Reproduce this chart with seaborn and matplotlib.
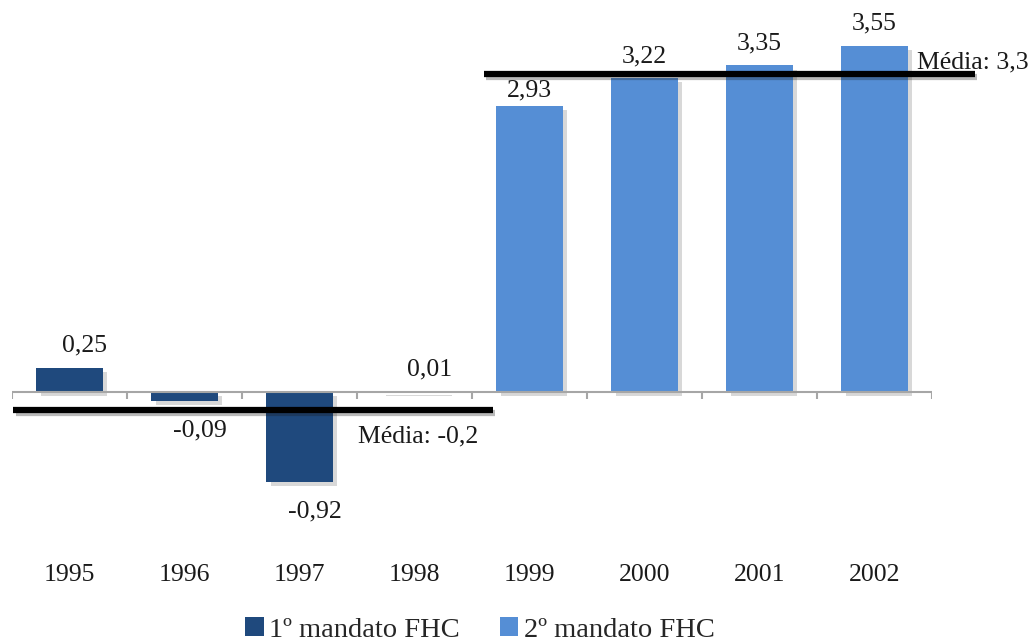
import numpy as np
import pandas as pd
import matplotlib
matplotlib.use("Agg")
import matplotlib.pyplot as plt
import matplotlib.patheffects as pe
from matplotlib.patches import Patch
import seaborn as sns

# Data
anos = ["1995", "1996", "1997", "1998", "1999", "2000", "2001", "2002"]
valores = [0.25, -0.09, -0.92, 0.01, 2.93, 3.22, 3.35, 3.55]
mandatos = ["1º mandato FHC"] * 4 + ["2º mandato FHC"] * 4
rotulos_media = ["Média: -0,2", "Média: 3,3"]

cores = {"1º mandato FHC": "#1F497D", "2º mandato FHC": "#558ED5"}

df = pd.DataFrame({"ano": anos, "valor": valores, "mandato": mandatos})

sns.set_theme(style="white")
plt.rcParams["font.family"] = ["Liberation Serif", "DejaVu Serif"]

W, H = 1033, 641
PX_PER_UNIT = 97.5
fig = plt.figure(figsize=(W / 100, H / 100), dpi=100)
# axes spans x 12..932 px, y 0..560 px (from top)
ax = fig.add_axes([12 / W, (H - 560) / H, 920 / W, 560 / H])

sns.barplot(data=df, x="ano", y="valor", hue="mandato", palette=cores,
            dodge=False, width=0.575, legend=False, ax=ax, saturation=1)

shadow = [pe.SimplePatchShadow(offset=(3, -3), shadow_rgbFace="#7f7f7f", alpha=0.3),
          pe.Normal()]
for p in ax.patches:
    p.set_path_effects(shadow)
    p.set_edgecolor("none")

ymax = 392 / PX_PER_UNIT
ymin = -(560 - 392) / PX_PER_UNIT
ax.set_xlim(-0.5, 7.5)
ax.set_ylim(ymin, ymax)

# zero axis with category tick marks
ax.axhline(0, color="#a6a6a6", lw=1.5, zorder=1)
tick_len = 7 / PX_PER_UNIT
ax.vlines(np.arange(len(anos) + 1) - 0.5, -tick_len, 0, color="#a6a6a6", lw=1.5, zorder=1)

# term means
grupos = [("1º mandato FHC", -0.49, 3.68), ("2º mandato FHC", 3.6, 7.87)]
medias = {g: np.mean([v for v, m in zip(valores, mandatos) if m == g]) for g, _, _ in grupos}
for g, x0, x1 in grupos:
    mu = medias[g]
    ax.plot([x0, x1], [mu, mu], color="black", lw=4.5, solid_capstyle="butt",
            clip_on=False, zorder=5,
            path_effects=[pe.SimpleLineShadow(offset=(2, -2), alpha=0.3), pe.Normal()])

# value labels (kept clear of the mean line of their own term)
for i, (v, m) in enumerate(zip(valores, mandatos)):
    txt = f"{v:.2f}".replace(".", ",")
    dx = 15 if m.startswith("1") else 0
    if v >= 0:
        dy = 22
        label_y = v + dy / PX_PER_UNIT
        if abs(label_y - medias[m]) < 12 / PX_PER_UNIT:
            dy = 16
    else:
        dy = -30
    ax.annotate(txt, (i, v), xytext=(dx, dy), textcoords="offset pixels",
                ha="center", va="center", fontsize=18.5, color="#1a1a1a")

ax.text(3.55, -0.46, rotulos_media[0], ha="right", va="center", fontsize=18.5, color="#1a1a1a")
ax.text(7.37, 3.385, rotulos_media[1], ha="left", va="center", fontsize=18.5,
        color="#1a1a1a", clip_on=False)

# axis styling
for s in ax.spines.values():
    s.set_visible(False)
ax.set_yticks([])
ax.set_xlabel("")
ax.set_ylabel("")
ax.tick_params(axis="x", length=0, pad=3, labelsize=18.5, labelcolor="#1a1a1a")

# legend
handles = [Patch(facecolor=cores[k], edgecolor="none") for k in cores]
fig.legend(handles, list(cores.keys()), loc="center", bbox_to_anchor=(480 / W, 1 - 630 / H),
           ncol=2, frameon=False, fontsize=20.5, handlelength=0.65, handleheight=0.65,
           handletextpad=0.2, columnspacing=1.4, borderpad=0)

fig.savefig("out.png", dpi=100, facecolor="white")
